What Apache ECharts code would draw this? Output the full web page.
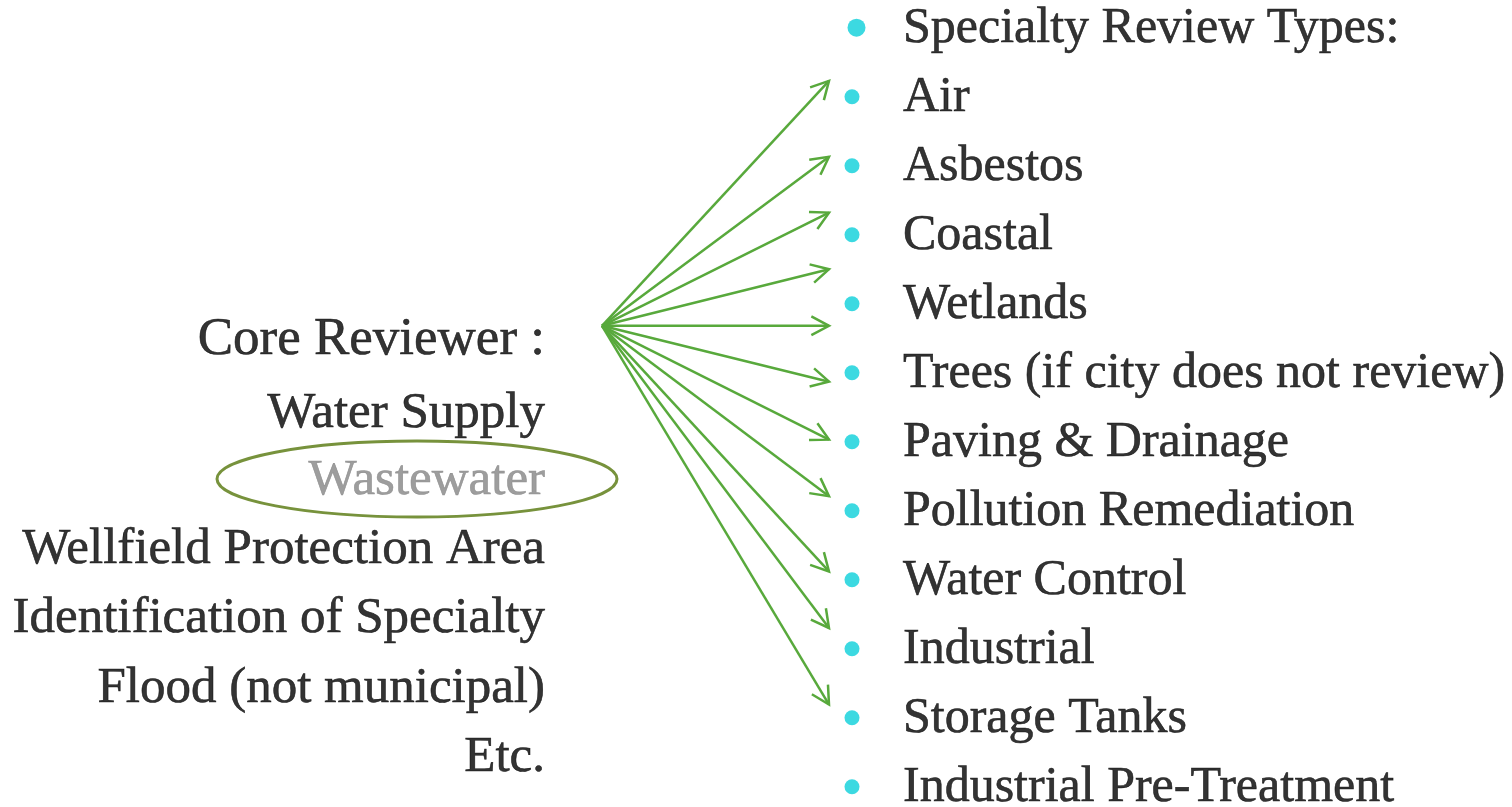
<!DOCTYPE html>
<html>
<head>
<meta charset="utf-8">
<script src="https://cdn.jsdelivr.net/npm/echarts@6/dist/echarts.min.js"></script>
<style>
  html, body { margin: 0; padding: 0; background: #fff; }
  #chart { width: 1512px; height: 807px; }
</style>
</head>
<body>
<div id="chart"></div>
<script>
// right-hand list, one entry per row (row 0 is the heading)
const specialtyTypes = [
  "Specialty Review Types:", "Air", "Asbestos", "Coastal", "Wetlands",
  "Trees (if city does not review)", "Paving & Drainage", "Pollution Remediation",
  "Water Control", "Industrial", "Storage Tanks", "Industrial Pre-Treatment"
];

// left-hand block (right aligned), positions in list rows
const coreLines = [
  "Core Reviewer :", "Water Supply", "Wastewater", "Wellfield Protection Area",
  "Identification of Specialty", "Flood (not municipal)", "Etc."
];
const coreRows = [4.53, 5.59, 6.57, 7.57, 8.56, 9.58, 10.58];
const circledLine = "Wastewater";

// arrows fan out from one point, tips given in list rows
const arrowOriginRow = 4.32;
const arrowTipRows = [0.77, 1.87, 2.68, 3.50, 4.32, 5.13, 5.97, 6.79, 7.88, 8.70, 9.81];

// layout (x in px)
const BULLET_X = 852;
const TEXT_X = 903;
const CORE_RIGHT_X = 545;
const ARROW_ORIGIN_X = 602;
const ARROW_TIP_X = 829;
const ELLIPSE_CX = 417;

const FONT = "Liberation Serif";
const GREEN = "#58a93c";
const CYAN = "#0bcfd9";
const OLIVE = "#77923c";
const GREY = "#858585";

const chart = echarts.init(document.getElementById("chart"));

const option = {
  animation: false,
  backgroundColor: "#fff",
  grid: { left: 0, right: 0, top: 27.7, bottom: 20.3 },
  xAxis: { type: "value", min: 0, max: 1512, show: false },
  yAxis: { type: "value", min: 0, max: 11, inverse: true, show: false },
  series: [
    {
      name: "arrows",
      type: "custom",
      silent: true,
      data: arrowTipRows.map(r => [ARROW_TIP_X, r]),
      renderItem: function (params, api) {
        const o = api.coord([ARROW_ORIGIN_X, arrowOriginRow]);
        const t = api.coord([api.value(0), api.value(1)]);
        const ang = Math.atan2(t[1] - o[1], t[0] - o[0]);
        const len = 20;
        const spread = 28 * Math.PI / 180;
        const a = [t[0] - len * Math.cos(ang - spread), t[1] - len * Math.sin(ang - spread)];
        const b = [t[0] - len * Math.cos(ang + spread), t[1] - len * Math.sin(ang + spread)];
        const style = { stroke: GREEN, lineWidth: 2.5, fill: null, lineJoin: "miter" };
        return {
          type: "group",
          children: [
            { type: "line", shape: { x1: o[0], y1: o[1], x2: t[0], y2: t[1] }, style: style },
            { type: "polyline", shape: { points: [a, t, b] }, style: style }
          ]
        };
      }
    },
    {
      name: "circle",
      type: "custom",
      silent: true,
      data: [[ELLIPSE_CX, coreRows[coreLines.indexOf(circledLine)]]],
      renderItem: function (params, api) {
        const c = api.coord([api.value(0), api.value(1)]);
        return {
          type: "ellipse",
          shape: { cx: c[0], cy: c[1] - 2, rx: 200, ry: 38 },
          style: { fill: null, stroke: OLIVE, lineWidth: 3 }
        };
      }
    },
    {
      name: "bullets",
      type: "scatter",
      silent: true,
      symbol: "circle",
      itemStyle: { color: CYAN },
      data: specialtyTypes.map((name, i) => ({
        name: name,
        value: [i === 0 ? 856.5 : BULLET_X, i],
        symbolSize: i === 0 ? 18 : 15
      }))
    },
    {
      name: "specialty",
      type: "scatter",
      silent: true,
      symbolSize: 0,
      itemStyle: { color: "transparent" },
      label: {
        show: true,
        position: "right",
        distance: 0,
        offset: [0, 1],
        formatter: "{b}",
        color: "#000",
        textBorderColor: "#000",
        textBorderWidth: 0.6,
        fontFamily: FONT,
        fontSize: 50
      },
      data: specialtyTypes.map((name, i) => ({ name: name, value: [TEXT_X, i] }))
    },
    {
      name: "core",
      type: "scatter",
      silent: true,
      symbolSize: 0,
      itemStyle: { color: "transparent" },
      label: {
        show: true,
        position: "left",
        distance: 0,
        formatter: "{b}",
        color: "#000",
        textBorderColor: "#000",
        textBorderWidth: 0.6,
        fontFamily: FONT,
        fontSize: 51
      },
      data: coreLines.map((name, i) => {
        const c = name === circledLine ? GREY : "#000";
        return {
          name: name,
          value: [CORE_RIGHT_X, coreRows[i]],
          label: { fontSize: i === 0 ? 53 : 51, color: c, textBorderColor: c }
        };
      })
    }
  ]
};

chart.setOption(option);
</script>
</body>
</html>
